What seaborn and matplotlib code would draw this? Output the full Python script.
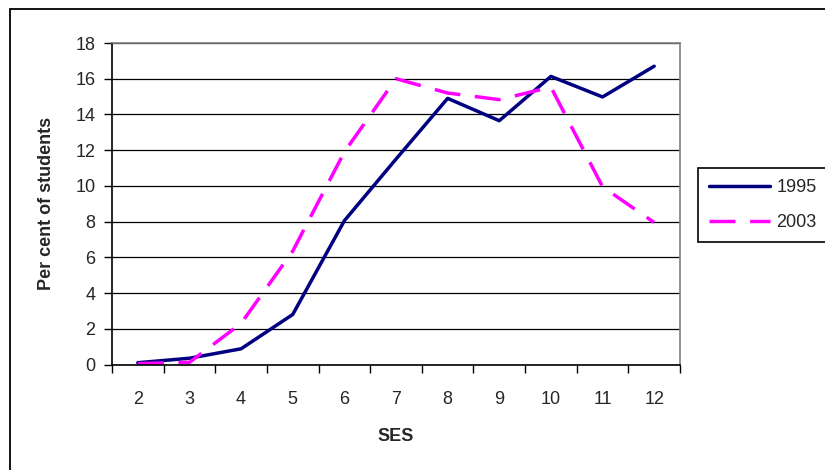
import matplotlib
matplotlib.use("Agg")
import matplotlib.pyplot as plt
from matplotlib.patches import Rectangle
from matplotlib.ticker import FixedLocator, NullFormatter
import seaborn as sns
import pandas as pd

ses = [2, 3, 4, 5, 6, 7, 8, 9, 10, 11, 12]
y1995 = [0.1, 0.35, 0.88, 2.8, 8.05, 11.5, 14.9, 13.65, 16.13, 14.98, 16.7]
y2003 = [0.05, 0.12, 2.3, 6.35, 11.9, 16.0, 15.2, 14.83, 15.53, 9.95, 7.95]
series = ["1995", "2003"]
yticks = [0, 2, 4, 6, 8, 10, 12, 14, 16, 18]

df = pd.DataFrame({
    "SES": ses * 2,
    "Per cent of students": y1995 + y2003,
    "Year": [series[0]] * len(ses) + [series[1]] * len(ses),
})

sns.set_style("white")
plt.rcParams["font.family"] = ["Liberation Sans", "DejaVu Sans"]

FS = 13
fig = plt.figure(figsize=(8.25, 4.70), dpi=100)
W, H = 825, 470
ax = fig.add_axes([112 / W, 1 - 364.5 / H, (680 - 112) / W, (364.5 - 43) / H])

sns.lineplot(
    data=df, x="SES", y="Per cent of students", hue="Year", style="Year",
    palette={"1995": "#000080", "2003": "#FF00FF"},
    dashes={"1995": "", "2003": (7.5, 4.2)},
    linewidth=2.5, ax=ax, legend=True,
)

ax.set_xlim(1.5, 12.5)
ax.set_ylim(0, 18)
ax.set_yticks(yticks)
ax.set_yticklabels([str(v) for v in yticks])
ax.yaxis.grid(True, color="black", linewidth=0.9)
ax.set_axisbelow(True)

# category axis: ticks between categories, labels at centres
ax.xaxis.set_major_locator(FixedLocator([x - 0.5 for x in ses] + [ses[-1] + 0.5]))
ax.xaxis.set_major_formatter(NullFormatter())
ax.xaxis.set_minor_locator(FixedLocator(ses))
ax.set_xticklabels([str(s) for s in ses], minor=True)
ax.tick_params(axis="x", which="major", length=6, width=1, color="black", direction="out", bottom=True)
ax.tick_params(axis="x", which="minor", length=0, pad=19, labelsize=FS, bottom=True)
ax.tick_params(axis="y", length=6, width=1, color="black", direction="out", left=True, pad=6, labelsize=FS)

for side in ["left", "bottom"]:
    ax.spines[side].set_color("black")
    ax.spines[side].set_linewidth(1.2)
for side in ["top", "right"]:
    ax.spines[side].set_visible(True)
    ax.spines[side].set_color("#808080")
    ax.spines[side].set_linewidth(1.2)

ax.set_xlabel("SES", fontsize=FS, fontweight="bold")
ax.set_ylabel("Per cent of students", fontsize=FS, fontweight="bold")
ax.xaxis.set_label_coords(0.5, (364.5 - 428) / (364.5 - 43))
ax.yaxis.set_label_coords((55 - 112) / (680 - 112), 0.5)

handles, labels = ax.get_legend_handles_labels()
ax.legend(
    handles, labels, loc="upper left",
    bbox_to_anchor=(698 / W, 1 - 168 / H), bbox_transform=fig.transFigure,
    fontsize=FS, frameon=True, fancybox=False, edgecolor="black",
    framealpha=1, borderpad=0.6, handlelength=3.4, handletextpad=0.33,
    labelspacing=1.0, borderaxespad=0,
)
ax.get_legend().get_frame().set_linewidth(1.2)

fig.patches.append(Rectangle((10 / W, -0.2), 1.2, 1 - 9 / H + 0.2,
                             transform=fig.transFigure, fill=False,
                             edgecolor="black", linewidth=1.3))

fig.savefig("out.png", dpi=100, facecolor="white")
